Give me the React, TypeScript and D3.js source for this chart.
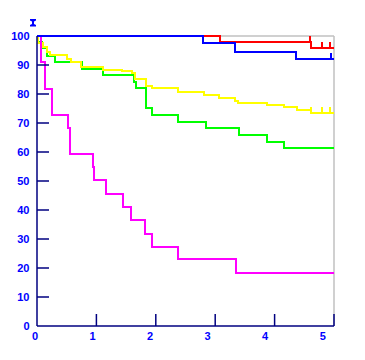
import React from "react";
import * as d3 from "d3";

const xTicks = [0, 1, 2, 3, 4, 5];
const yTicks = [0, 10, 20, 30, 40, 50, 60, 70, 80, 90, 100];

const blueT = [0, 2.8, 3.33, 4.36, 5.0];
const blueS = [100, 97.5, 94.6, 92.0, 92.0];
const blueCens = [4.95];

const redT = [0, 3.08, 4.61, 5.0];
const redS = [100, 98, 96, 96];
const redCens = [4.6, 4.79, 4.94];

const yellowT = [0, 0.017, 0.106, 0.168, 0.219, 0.513, 0.567, 0.741, 1.111, 1.431, 1.599, 1.658, 1.835, 1.931, 2.379, 2.811, 3.064, 3.333, 3.384, 3.867, 4.163, 4.377, 4.613, 5.0];
const yellowS = [100, 97.7, 96.3, 94.5, 93.4, 92.1, 90.9, 89.4, 88.3, 87.8, 87.1, 85.3, 82.9, 82.0, 80.8, 79.5, 78.7, 77.6, 77.0, 76.2, 75.4, 74.4, 73.6, 73.6];
const yellowCens = [4.62, 4.8, 4.93];

const greenT = [0, 0.01, 0.084, 0.163, 0.303, 0.753, 1.106, 1.633, 1.662, 1.835, 1.931, 2.379, 2.845, 3.401, 3.867, 4.163, 5.0];
const greenS = [100, 97.9, 95.8, 93.1, 91.1, 88.6, 86.4, 84.2, 82.0, 75.3, 72.8, 70.4, 68.4, 65.9, 63.6, 61.5, 61.5];
const greenCens: number[] = [];

const magentaT = [0, 0.06, 0.135, 0.26, 0.52, 0.56, 0.94, 0.955, 1.16, 1.44, 1.59, 1.82, 1.94, 2.38, 3.35, 5.0];
const magentaS = [100, 91.0, 81.8, 72.8, 68.2, 59.3, 55.0, 50.2, 45.5, 40.9, 36.6, 31.7, 27.3, 23.0, 18.2, 18.2];
const magentaCens: number[] = [];

const series = [
  { t: greenT, s: greenS, c: greenCens, color: "#00ff00" },
  { t: yellowT, s: yellowS, c: yellowCens, color: "#ffff00" },
  { t: magentaT, s: magentaS, c: magentaCens, color: "#ff00ff" },
  { t: redT, s: redS, c: redCens, color: "#ff0000" },
  { t: blueT, s: blueS, c: blueCens, color: "#0000ff" },
];

const x = d3.scaleLinear().domain([0, 5]).range([37, 334]);
const y = d3.scaleLinear().domain([0, 100]).range([326, 36]);
const xLab = d3.scaleLinear().domain([0, 5]).range([35, 322.7]);

const line = d3
  .line<[number, number]>()
  .x((d) => x(d[0]))
  .y((d) => y(d[1]))
  .curve(d3.curveStepAfter);

function valueAt(t: number[], s: number[], at: number) {
  let v = s[0];
  for (let i = 0; i < t.length; i++) if (t[i] <= at) v = s[i];
  return v;
}

const navy = "#000080";
const labelColor = "#0000ff";
const font = "'Liberation Sans', Arial, sans-serif";

export default function App() {
  return (
    <svg
      width={365}
      height={360}
      style={{ position: "absolute", left: 0, top: 0, background: "#fff" }}
    >
      <rect x={0} y={0} width={365} height={360} fill="#fff" />
      {/* frame */}
      <line x1={x(0)} x2={x(5)} y1={y(100)} y2={y(100)} stroke="#c0c0c0" strokeWidth={1.5} />
      <line x1={x(5)} x2={x(5)} y1={y(100)} y2={y(0)} stroke="#c0c0c0" strokeWidth={1.5} />
      {/* series */}
      {series.map((sr, i) => (
        <g key={i}>
          <path
            d={line(sr.t.map((t, j) => [t, sr.s[j]] as [number, number])) || ""}
            fill="none"
            stroke={sr.color}
            strokeWidth={2}
            shapeRendering="crispEdges"
          />
          {sr.c.map((ct, k) => {
            const v = valueAt(sr.t, sr.s, ct);
            return (
              <line
                key={k}
                x1={x(ct)}
                x2={x(ct)}
                y1={y(v)}
                y2={y(v) - 6}
                stroke={sr.color}
                strokeWidth={2}
                shapeRendering="crispEdges"
              />
            );
          })}
        </g>
      ))}
      {/* axes */}
      <line x1={x(0)} x2={x(0)} y1={y(100)} y2={y(0)} stroke={navy} strokeWidth={1.5} />
      <line x1={x(0)} x2={x(5)} y1={y(0)} y2={y(0)} stroke={navy} strokeWidth={1.5} />
      {yTicks.map((v) => (
        <g key={"y" + v}>
          {v > 0 && v < 100 && (
            <line x1={x(0)} x2={x(0) + 12} y1={y(v)} y2={y(v)} stroke={navy} strokeWidth={1.5} />
          )}
          <text
            x={29.5}
            y={y(v)}
            dy="0.36em"
            textAnchor="end"
            fontFamily={font}
            fontWeight="bold"
            fontSize={11}
            fill={labelColor}
          >
            {v}
          </text>
        </g>
      ))}
      {xTicks.map((v) => (
        <g key={"x" + v}>
          {v > 0 && (
            <line x1={x(v)} x2={x(v)} y1={y(0)} y2={y(0) - 12} stroke={navy} strokeWidth={1.5} />
          )}
          <text
            x={xLab(v)}
            y={340}
            textAnchor="middle"
            fontFamily={font}
            fontWeight="bold"
            fontSize={11}
            fill={labelColor}
          >
            {v}
          </text>
        </g>
      ))}
      {/* axis cap glyph */}
      <path
        d="M30,19 L36,19 L36,20.5 L34,21.5 L34,24 L36,25 L36,26.5 L30,26.5 L30,25 L32,24 L32,21.5 L30,20.5 Z"
        fill={labelColor}
      />
    </svg>
  );
}
